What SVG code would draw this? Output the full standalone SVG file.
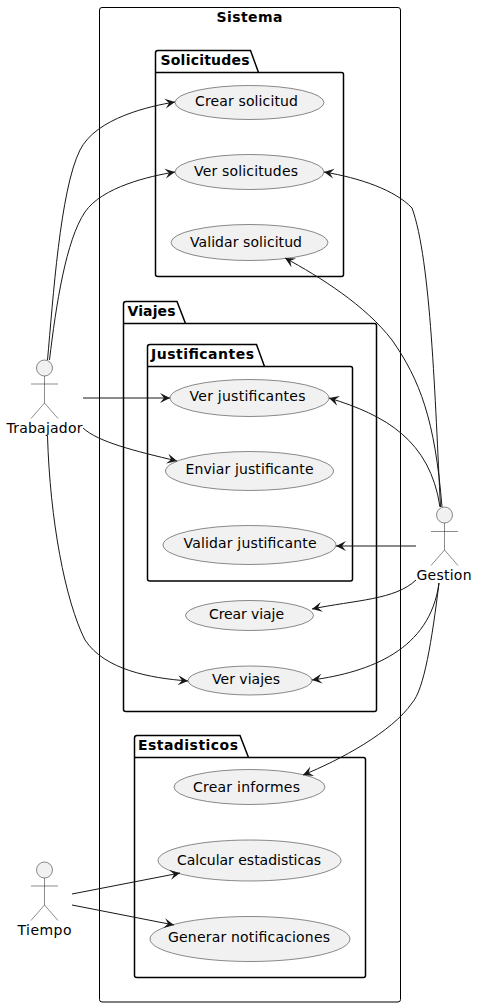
<svg xmlns="http://www.w3.org/2000/svg" width="478" height="1007" viewBox="0 0 478 1007">
<style>
text{font-family:"DejaVu Sans",sans-serif;font-size:14px;fill:#000;text-anchor:start}
.b{font-weight:bold}
.pk{fill:none;stroke:#000;stroke-width:1.5}
.sys{fill:none;stroke:#000;stroke-width:1}
.uc{fill:#f1f1f1;stroke:#181818;stroke-width:.5}
.act{fill:none;stroke:#181818;stroke-width:.5}
.act circle{fill:#f1f1f1}
#connectors path{fill:none;stroke:#181818;stroke-width:1;marker-end:url(#arrow)}
</style>
<defs>
<marker id="arrow" markerUnits="userSpaceOnUse" markerWidth="12" markerHeight="12" refX="11" refY="6" orient="auto" viewBox="0 0 12 12">
<path d="M1,1 L11,6 L1,11 L5,6 Z" fill="#181818"/>
</marker>
</defs>
<g id="sistema"><rect class="sys" x="99.5" y="7.5" width="301" height="994.5" rx="2.5"/><text class="b" x="216.5" y="22" textLength="66">Sistema</text></g>
<g id="solicitudes"><path class="pk" d="M158,50.5H250.5L258.5,72.5H341.5Q343.5,72.5 343.5,74.5V274.5Q343.5,276.5 341.5,276.5H158Q155.5,276.5 155.5,274.5V53Q155.5,50.5 158,50.5ZM155.5,72.5H258.5"/><text class="b" x="160.5" y="65" textLength="89">Solicitudes</text></g>
<g id="viajes"><path class="pk" d="M126,301.5H177L185.5,323.5H374.5Q376.5,323.5 376.5,325.5V709.5Q376.5,711.5 374.5,711.5H126Q123.5,711.5 123.5,709.5V304Q123.5,301.5 126,301.5ZM123.5,323.5H185.5"/><text class="b" x="127.5" y="316" textLength="48">Viajes</text></g>
<g id="justificantes"><path class="pk" d="M150,344.5H256.5L264.5,366.5H350.5Q352.5,366.5 352.5,368.5V579Q352.5,581 350.5,581H150Q147.5,581 147.5,579V347Q147.5,344.5 150,344.5ZM147.5,366.5H264.5"/><text class="b" x="151" y="359" textLength="103">Justificantes</text></g>
<g id="estadisticos"><path class="pk" d="M137,735.5H240L248.5,757.5H363.5Q365.5,757.5 365.5,759.5V975.5Q365.5,977.5 363.5,977.5H137Q134.5,977.5 134.5,975.5V738Q134.5,735.5 137,735.5ZM134.5,757.5H248.5"/><text class="b" x="138" y="750" textLength="100">Estadisticos</text></g>

<g id="uc-crear-solicitud"><ellipse class="uc" cx="249.5" cy="102.5" rx="74.5" ry="17"/><text x="195" y="106" textLength="103">Crear solicitud</text></g>
<g id="uc-ver-solicitudes"><ellipse class="uc" cx="249.5" cy="172" rx="74.5" ry="17.5"/><text x="194" y="176" textLength="104">Ver solicitudes</text></g>
<g id="uc-validar-solicitud"><ellipse class="uc" cx="249.5" cy="242.5" rx="78.5" ry="18"/><text x="190" y="247" textLength="112">Validar solicitud</text></g>
<g id="uc-ver-justificantes"><ellipse class="uc" cx="249.5" cy="398" rx="79.5" ry="18.5"/><text x="189.5" y="401" textLength="116">Ver justificantes</text></g>
<g id="uc-enviar-justificante"><ellipse class="uc" cx="249.5" cy="471" rx="84" ry="19.5"/><text x="185.5" y="474" textLength="128">Enviar justificante</text></g>
<g id="uc-validar-justificante"><ellipse class="uc" cx="249.5" cy="545" rx="86.5" ry="19.5"/><text x="183.5" y="548" textLength="133">Validar justificante</text></g>
<g id="uc-crear-viaje"><ellipse class="uc" cx="249.5" cy="615.5" rx="64" ry="15"/><text x="209" y="619" textLength="75">Crear viaje</text></g>
<g id="uc-ver-viajes"><ellipse class="uc" cx="250" cy="680.5" rx="62" ry="14.5"/><text x="212" y="684" textLength="68">Ver viajes</text></g>
<g id="uc-crear-informes"><ellipse class="uc" cx="249.5" cy="787" rx="75.5" ry="17.5"/><text x="193" y="792" textLength="107">Crear informes</text></g>
<g id="uc-calcular-estadisticas"><ellipse class="uc" cx="249.5" cy="860.5" rx="91.5" ry="20.5"/><text x="177" y="865" textLength="144">Calcular estadisticas</text></g>
<g id="uc-generar-notificaciones"><ellipse class="uc" cx="250" cy="939" rx="100" ry="22.5"/><text x="168" y="942" textLength="162">Generar notificaciones</text></g>

<g id="trabajador"><g class="act"><circle cx="44.5" cy="368" r="8"/><path d="M44.5,376V403M31,384H58M31,418.5L44.5,403L58,418.5"/></g><text x="6.5" y="433" textLength="76">Trabajador</text></g>
<g id="gestion"><g class="act"><circle cx="444.5" cy="515" r="8"/><path d="M444.5,523V550M431,531.5H458M431,565.5L444.5,550L458,565.5"/></g><text x="416.5" y="580" textLength="55">Gestion</text></g>
<g id="tiempo"><g class="act"><circle cx="44.5" cy="870" r="8"/><path d="M44.5,878V905M31,886H58M31,920.5L44.5,905L58,920.5"/></g><text x="17.5" y="935" textLength="54">Tiempo</text></g>

<g id="connectors">
<path d="M47.5,360C53,300 60,190 80,150C96,118 150,106 175,102"/>
<path d="M49.5,360C56,305 66,240 85,212C102,187 150,176 175,172"/>
<path d="M83,398H170"/>
<path d="M83,428C98,442 135,451 177,461"/>
<path d="M47.5,436C50,520 65,600 85,640C105,670 150,678 188,681"/>
<path d="M440.5,507C435,400 431,260 412,208C395,190 360,178 324,172"/>
<path d="M442,507C435,420 420,380 392,340C365,305 320,277 285,258"/>
<path d="M440,507C430,440 385,415 329,398"/>
<path d="M416,546H336"/>
<path d="M416,580C395,600 355,600 312,609"/>
<path d="M439,583C430,650 370,672 312,680"/>
<path d="M439,583C432,640 424,690 412,703C392,732 340,760 303,775"/>
<path d="M72,894L180,873"/>
<path d="M72,905L174,925"/>
</g>
</svg>
